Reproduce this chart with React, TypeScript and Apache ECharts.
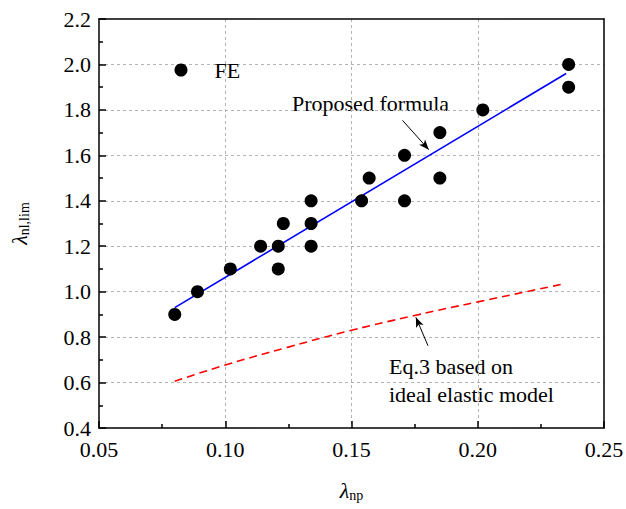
import React, { useEffect, useRef } from "react";
import * as echarts from "echarts";

// FE results (lambda_np, lambda_nl,lim)
const feX = [0.080, 0.089, 0.102, 0.114, 0.121, 0.121, 0.123, 0.134, 0.134, 0.134, 0.154, 0.157, 0.171, 0.171, 0.185, 0.185, 0.202, 0.236, 0.236];
const feY = [0.90, 1.00, 1.10, 1.20, 1.20, 1.10, 1.30, 1.40, 1.30, 1.20, 1.40, 1.50, 1.60, 1.40, 1.70, 1.50, 1.80, 2.00, 1.90];

// Proposed formula (straight line)
const propX = [0.080, 0.235];
const propY = [0.93, 1.96];

// Eq.3 based on ideal elastic model
const eqX = [0.080, 0.100, 0.125, 0.150, 0.175, 0.200, 0.234];
const eqY = [0.606, 0.677, 0.756, 0.830, 0.895, 0.955, 1.034];

// Annotation arrows (data coordinates): [tailX, tailY, headX, headY]
const arrowProposed = [0.1702, 1.754, 0.1806, 1.625];
const arrowEq = [0.1803, 0.762, 0.1755, 0.887];

const FONT = "Liberation Serif, serif";

export default function App() {
  const ref = useRef<HTMLDivElement>(null);
  useEffect(() => {
    if (!ref.current) return;
    const chart = echarts.init(ref.current, undefined, { renderer: "svg" });
    const arrowLine = (a: number[]) => [
      { coord: [a[0], a[1]], symbol: "none" },
      { coord: [a[2], a[3]], symbol: "arrow" },
    ];
    chart.setOption({
      animation: false,
      backgroundColor: "#ffffff",
      textStyle: { fontFamily: FONT },
      grid: { left: 99, right: 22, top: 19, bottom: 81, containLabel: false, outerBoundsMode: "none" },
      legend: {
        data: ["FE"],
        left: 169.5,
        top: 54,
        itemWidth: 13,
        itemHeight: 13,
        textStyle: { fontFamily: FONT, fontSize: 22, color: "#000", padding: [0, 0, 0, 22] },
      },
      xAxis: [
        {
          type: "value",
          min: 0.05,
          max: 0.25,
          interval: 0.05,
          name: "{l|λ}{s|np}",
          nameLocation: "middle",
          nameGap: 50,
          nameTextStyle: {
            rich: {
              l: { fontFamily: FONT, fontStyle: "italic", fontSize: 22, color: "#000" },
              s: { fontFamily: FONT, fontSize: 14, color: "#000", padding: [10, 0, 0, 0] },
            },
          },
          axisLine: { show: true, onZero: false, lineStyle: { color: "#000", width: 1.5 } },
          axisTick: { show: true, inside: true, length: 7, lineStyle: { color: "#000", width: 1.5 } },
          minorTick: { show: true, splitNumber: 2, length: 4, lineStyle: { color: "#000", width: 1.5 } },
          axisLabel: {
            fontFamily: FONT,
            fontSize: 22,
            color: "#000",
            margin: 10,
            formatter: (v: number) => v.toFixed(2),
          },
          splitLine: {
            show: true,
            showMinLine: false,
            showMaxLine: false,
            lineStyle: { color: "#b4b4b4", type: [3, 3], width: 1 },
          },
        },
        {
          type: "value",
          position: "top",
          min: 0.05,
          max: 0.25,
          interval: 0.05,
          axisLine: { show: true, onZero: false, lineStyle: { color: "#000", width: 1.5 } },
          axisTick: { show: false },
          axisLabel: { show: false },
          splitLine: { show: false },
        },
      ],
      yAxis: [
        {
          type: "value",
          min: 0.4,
          max: 2.2,
          interval: 0.2,
          name: "{l|λ}{s|nl,lim}",
          nameLocation: "middle",
          nameGap: 68,
          nameTextStyle: {
            rich: {
              l: { fontFamily: FONT, fontStyle: "italic", fontSize: 22, color: "#000" },
              s: { fontFamily: FONT, fontSize: 14, color: "#000", padding: [10, 0, 0, 0] },
            },
          },
          axisLine: { show: true, onZero: false, lineStyle: { color: "#000", width: 1.5 } },
          axisTick: { show: true, inside: true, length: 7, lineStyle: { color: "#000", width: 1.5 } },
          minorTick: { show: true, splitNumber: 2, length: 4, lineStyle: { color: "#000", width: 1.5 } },
          axisLabel: {
            fontFamily: FONT,
            fontSize: 22,
            color: "#000",
            margin: 8,
            formatter: (v: number) => v.toFixed(1),
          },
          splitLine: {
            show: true,
            showMinLine: false,
            showMaxLine: false,
            lineStyle: { color: "#b4b4b4", type: [3, 3], width: 1 },
          },
        },
        {
          type: "value",
          position: "right",
          min: 0.4,
          max: 2.2,
          interval: 0.2,
          axisLine: { show: true, onZero: false, lineStyle: { color: "#000", width: 1.5 } },
          axisTick: { show: false },
          axisLabel: { show: false },
          splitLine: { show: false },
        },
      ],
      series: [
        {
          name: "Eq.3 based on ideal elastic model",
          type: "line",
          smooth: true,
          showSymbol: false,
          symbol: "none",
          data: eqX.map((x, i) => [x, eqY[i]]),
          lineStyle: { color: "#ff0000", width: 1.6, type: [8, 5] },
          markLine: {
            silent: true,
            symbol: ["none", "arrow"],
            symbolSize: [6, 10],
            label: { show: false },
            lineStyle: { color: "#000", width: 1, type: "solid" },
            data: [arrowLine(arrowEq)],
          },
          z: 2,
        },
        {
          name: "Proposed formula",
          type: "line",
          showSymbol: false,
          symbol: "none",
          data: propX.map((x, i) => [x, propY[i]]),
          lineStyle: { color: "#0000ff", width: 1.6 },
          markLine: {
            silent: true,
            symbol: ["none", "arrow"],
            symbolSize: [6, 10],
            label: { show: false },
            lineStyle: { color: "#000", width: 1, type: "solid" },
            data: [arrowLine(arrowProposed)],
          },
          z: 2,
        },
        {
          name: "FE",
          type: "scatter",
          symbol: "circle",
          symbolSize: 13,
          itemStyle: { color: "#000", opacity: 1 },
          data: feX.map((x, i) => [x, feY[i]]),
          z: 3,
        },
      ],
      graphic: [
        {
          type: "text",
          x: 292,
          y: 103,
          style: { text: "Proposed formula", font: `22px ${FONT}`, fill: "#000", align: "left", verticalAlign: "middle" },
        },
        {
          type: "text",
          x: 389,
          y: 366,
          style: { text: "Eq.3 based on", font: `22px ${FONT}`, fill: "#000", align: "left", verticalAlign: "middle" },
        },
        {
          type: "text",
          x: 389,
          y: 394,
          style: { text: "ideal elastic model", font: `22px ${FONT}`, fill: "#000", align: "left", verticalAlign: "middle" },
        },
      ],
    });
    return () => chart.dispose();
  }, []);
  return <div ref={ref} style={{ position: "fixed", left: 0, top: 0, width: 626, height: 509 }} />;
}
